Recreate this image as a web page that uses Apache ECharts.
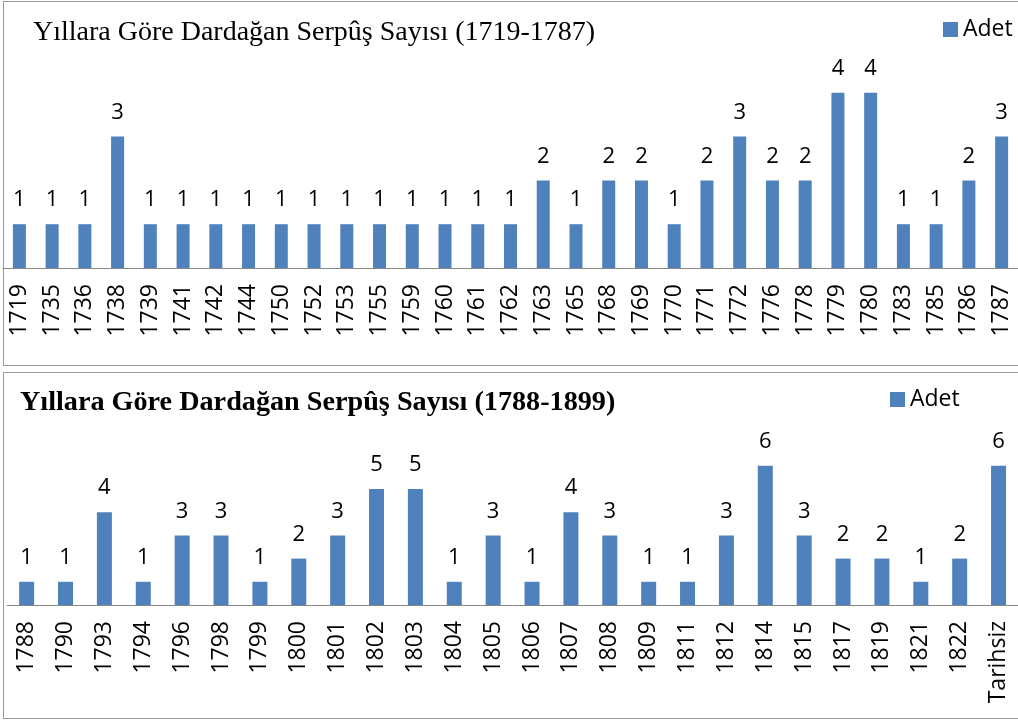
<!DOCTYPE html>
<html>
<head>
<meta charset="utf-8">
<script src="https://cdn.jsdelivr.net/npm/echarts@6/dist/echarts.min.js"></script>
<style>
  html, body { margin: 0; padding: 0; background: #fff; width: 1018px; height: 721px; overflow: hidden; }
  .box { position: absolute; border: 1.5px solid #9a9a9a; box-sizing: border-box; }
  .chart { position: absolute; left: 0; width: 1018px; }
</style>
</head>
<body>
<div class="box" style="left:3px; top:1px; width:1040px; height:365px;"></div>
<div class="box" style="left:3px; top:372px; width:1040px; height:347px;"></div>
<div id="top" class="chart" style="top:0; height:369px;"></div>
<div id="bottom" class="chart" style="top:369px; height:352px;"></div>
<script>
const yearsA = ['1719', '1735', '1736', '1738', '1739', '1741', '1742', '1744', '1750', '1752',
  '1753', '1755', '1759', '1760', '1761', '1762', '1763', '1765', '1768', '1769',
  '1770', '1771', '1772', '1776', '1778', '1779', '1780', '1783', '1785', '1786', '1787'];
const adetA = [1, 1, 1, 3, 1, 1, 1, 1, 1, 1,
  1, 1, 1, 1, 1, 1, 2, 1, 2, 2,
  1, 2, 3, 2, 2, 4, 4, 1, 1, 2, 3];

const yearsB = ['1788', '1790', '1793', '1794', '1796', '1798', '1799', '1800', '1801', '1802',
  '1803', '1804', '1805', '1806', '1807', '1808', '1809', '1811', '1812', '1814',
  '1815', '1817', '1819', '1821', '1822', 'Tarihsiz'];
const adetB = [1, 1, 4, 1, 3, 3, 1, 2, 3, 5,
  5, 1, 3, 1, 4, 3, 1, 1, 3, 6,
  3, 2, 2, 1, 2, 6];

const barColor = '#4f81bd';
const sans = '"Open Sans", "Liberation Sans", sans-serif';

function makeOption(cfg) {
  return {
    animation: false,
    title: {
      text: cfg.title,
      left: cfg.titleLeft,
      top: cfg.titleTop,
      textStyle: {
        fontFamily: '"Liberation Serif", "Times New Roman", serif',
        fontSize: cfg.titleSize,
        fontWeight: cfg.titleWeight,
        color: '#000'
      }
    },
    legend: {
      data: ['Adet'],
      left: cfg.legendLeft,
      top: cfg.legendTop,
      itemWidth: 15,
      itemHeight: 15,
      itemGap: 5,
      icon: 'rect',
      textStyle: { fontFamily: sans, fontSize: 23, color: '#000' }
    },
    grid: {
      left: cfg.gridLeft,
      top: cfg.gridTop,
      width: cfg.gridWidth,
      height: cfg.gridHeight
    },
    xAxis: {
      type: 'category',
      data: cfg.categories,
      axisLine: { lineStyle: { color: '#868686', width: 1 } },
      axisTick: { show: false },
      axisLabel: {
        rotate: 90,
        interval: 0,
        margin: 16,
        fontFamily: sans,
        fontSize: 23,
        color: '#000'
      }
    },
    yAxis: {
      type: 'value',
      min: 0,
      max: cfg.yMax,
      show: false,
      splitLine: { show: false }
    },
    series: [
      {
        name: 'Adet',
        type: 'bar',
        data: cfg.values,
        barWidth: cfg.barWidth,
        itemStyle: { color: barColor },
        label: {
          show: true,
          position: 'top',
          distance: 13,
          fontFamily: sans,
          fontSize: 22,
          color: '#000'
        }
      }
    ]
  };
}

const topChart = echarts.init(document.getElementById('top'));
topChart.setOption(makeOption({
  title: 'Yıllara Göre Dardağan Serpûş Sayısı (1719-1787)',
  titleLeft: 28,
  titleTop: 14,
  titleSize: 28,
  titleWeight: 'normal',
  legendLeft: 938,
  legendTop: 13,
  gridLeft: 3,
  gridTop: 49,
  gridWidth: 1020.5,
  gridHeight: 219,
  yMax: 5,
  barWidth: 13,
  categories: yearsA,
  values: adetA
}));

const bottomChart = echarts.init(document.getElementById('bottom'));
bottomChart.setOption(makeOption({
  title: 'Yıllara Göre Dardağan Serpûş Sayısı (1788-1899)',
  titleLeft: 15,
  titleTop: 15,
  titleSize: 28.2,
  titleWeight: 'bold',
  legendLeft: 885,
  legendTop: 14,
  gridLeft: 7.2,
  gridTop: 73.6,
  gridWidth: 1015.3,
  gridHeight: 162.4,
  yMax: 7,
  barWidth: 15,
  categories: yearsB,
  values: adetB
}));
</script>
</body>
</html>
